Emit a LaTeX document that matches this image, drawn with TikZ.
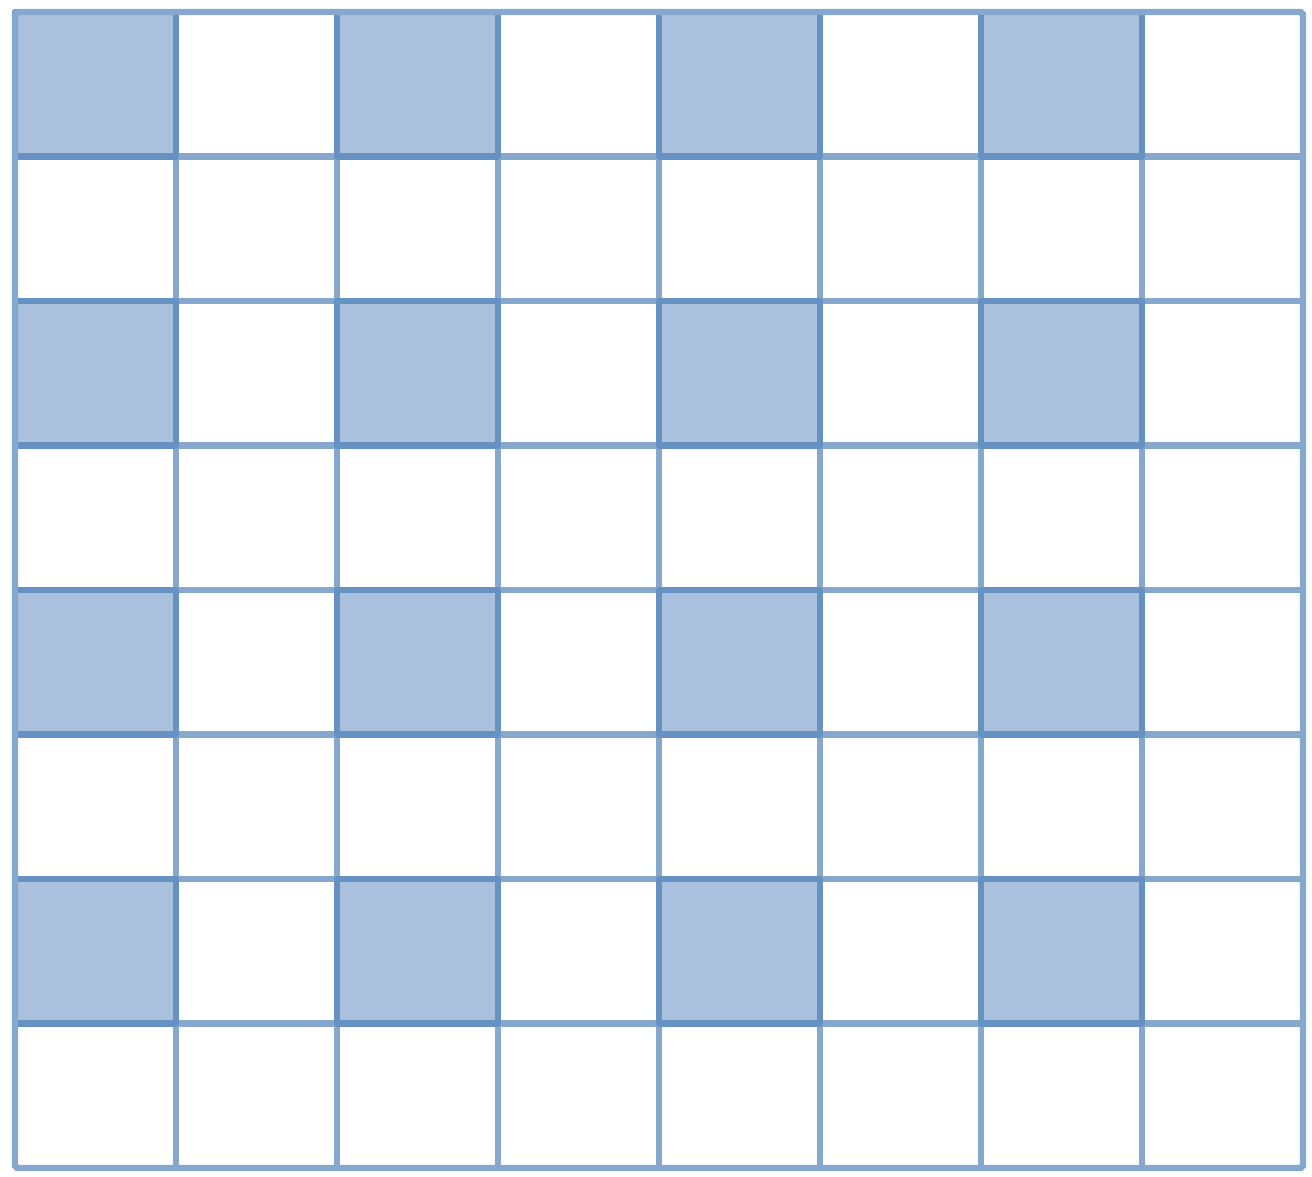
\documentclass[tikz,border=0pt]{standalone}
\usepackage{tikz}

\definecolor{gridblue}{HTML}{86A8CF}
\definecolor{cellblue}{HTML}{A9C1DC}
\definecolor{edgeblue}{HTML}{6691C3}

\begin{document}
\begin{tikzpicture}[line join=round]
    \useasboundingbox (0, 0) rectangle (13.12, 11.77);

    \begin{scope}[shift={(0.15, 11.65)}, x=1.61cm, y=-1.445cm]
        % Shaded cells
        \foreach \i in {0, 2, 4, 6} {
            \foreach \j in {0, 2, 4, 6} {
                \fill[cellblue] (\i, \j) rectangle (\i+1, \j+1);
            }
        }

        % Grid
        \foreach \i in {0, ..., 8} {
            \draw[gridblue, line width=1.8pt] (\i, 0) -- (\i, 8);
            \draw[gridblue, line width=1.8pt] (0, \i) -- (8, \i);
        }

        % Borders of shaded cells
        \foreach \i in {0, 2, 4, 6} {
            \foreach \j in {0, 2, 4, 6} {
                \draw[edgeblue, line width=1.8pt] (\i, \j) rectangle (\i+1, \j+1);
            }
        }

        % Outer frame
        \draw[gridblue, line width=1.8pt, rounded corners=1pt] (0, 0) rectangle (8, 8);
    \end{scope}
\end{tikzpicture}
\end{document}
